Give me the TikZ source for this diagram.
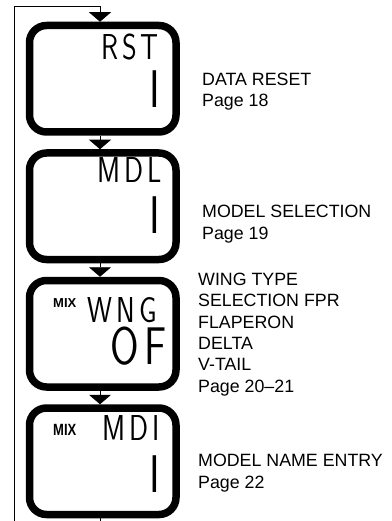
\documentclass[tikz,border=0pt]{standalone}
\usepackage{fontspec}
\setmainfont{Liberation Sans}
\newfontfamily\lcdfont[FakeStretch=0.78,LetterSpace=11]{Latin Modern Sans}
\usetikzlibrary{arrows.meta,positioning}

\begin{document}
\begin{tikzpicture}[x=1pt,y=1pt,
  screen/.style={draw,line width=7.5pt,rounded corners=17pt,
                 minimum width=146.5pt,minimum height=106.5pt},
  lcd/.style={inner sep=0pt,anchor=base east,font=\lcdfont\fontsize{36}{36}\selectfont},
  big/.style={inner sep=0pt,anchor=base east,font=\lcdfont\fontsize{53}{53}\selectfont},
  mix/.style={inner sep=0pt,anchor=base west,font=\bfseries\fontsize{13}{13}\selectfont},
  note/.style={inner sep=0pt,anchor=base west,align=left,
               font=\fontsize{17.8}{21.3}\selectfont},
  ar/.style={line width=0.8pt,-{Triangle[width=22pt,length=9.5pt]}}]
\useasboundingbox (0,0) rectangle (391,-521);
% the four screens
\node[screen] (rst) at (102.75,-78.75) {};
\node[screen,below=13.5pt of rst] (mdl) {};
\node[screen,below=13.5pt of mdl] (wng) {};
\node[screen,below=13.5pt of wng] (mdi) {};
\coordinate (ax) at (100,0);
\coordinate (lp) at (14,-521);
% display texts
\node[lcd] (rsttxt) at (159,-60) {RST};
\node[big] (rstval) at (160,-108) {I};
\node[lcd] (mdltxt) at (162,-183) {MDL};
\node[big] (mdlval) at (160,-233) {I};
\node[mix] (wngmix) at (53,-307) {MIX};
\node[lcd] (wngtxt) at (157,-322) {WNG};
\node[big] (wngval) at (167,-364) {OF};
\node[mix,yscale=1.25] (mdimix) at (53,-435) {MIX};
\node[lcd] (mditxt) at (160,-440) {MDI};
\node[big] (mdival) at (160,-492) {I};
% notes (base = last line)
\node[note] (n1) at (202,-107) {DATA RESET\\Page 18};
\node[note] (n2) at (202,-239) {MODEL SELECTION\\Page 19};
\node[note] (n3) at (198,-392) {WING TYPE\\SELECTION FPR\\FLAPERON\\DELTA\\V-TAIL\\Page 20--21};
\node[note] (n4) at (198,-488) {MODEL NAME ENTRY\\Page 22};
% flow
\draw[ar] (lp) |- (ax |- 0,-6) -- (rst.north -| ax);
\draw[ar] (rst.south -| ax) -- (mdl.north -| ax);
\draw[ar] (mdl.south -| ax) -- (wng.north -| ax);
\draw[ar] (wng.south -| ax) -- (mdi.north -| ax);
\draw[line width=0.8pt] (mdi.south -| ax) -- (ax |- lp);
\end{tikzpicture}
\end{document}
